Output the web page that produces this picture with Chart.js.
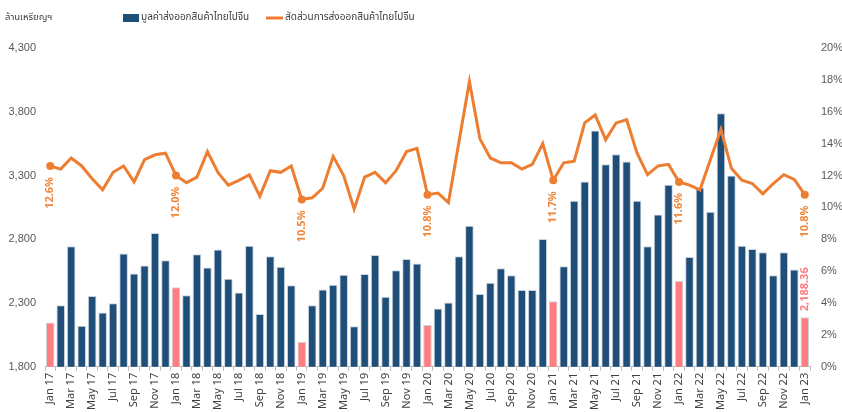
<!DOCTYPE html>
<html>
<head>
<meta charset="utf-8">
<script src="https://cdn.jsdelivr.net/npm/chart.js@4/dist/chart.umd.min.js"></script>
<style>
html,body{margin:0;padding:0;background:#fff;}
#wrap{position:relative;width:842px;height:412px;}
</style>
</head>
<body>
<div id="wrap"><canvas id="c" width="842" height="412"></canvas></div>
<script>
const monthNames = ['Jan','Feb','Mar','Apr','May','Jun','Jul','Aug','Sep','Oct','Nov','Dec'];
const years = ['17','18','19','20','21','22','23'];
const categories = [];
years.forEach(y => monthNames.forEach(m => { if (categories.length < 73) categories.push(m + ' ' + y); }));

// มูลค่าส่งออกสินค้าไทยไปจีน (ล้านเหรียญฯ)
const exportValue = [
  2148, 2283, 2745, 2122, 2355, 2226, 2298, 2688, 2532, 2594, 2849, 2636,
  2423, 2361, 2683, 2579, 2719, 2490, 2382, 2750, 2215, 2667, 2584, 2439,
  1997, 2283, 2407, 2444, 2522, 2117, 2527, 2677, 2350, 2558, 2646, 2610,
  2127, 2257, 2304, 2667, 2906, 2371, 2459, 2573, 2517, 2402, 2402, 2802,
  2314, 2589, 3103, 3254, 3654, 3389, 3467, 3410, 3103, 2745, 2994, 3228,
  2475, 2662, 3207, 3015, 3788, 3301, 2750, 2724, 2698, 2517, 2698, 2563,
  2188.36
];
// สัดส่วนการส่งออกสินค้าไทยไปจีน (%)
const exportShare = [
  12.6, 12.4, 13.1, 12.6, 11.8, 11.1, 12.2, 12.6, 11.6, 13.0, 13.3, 13.4,
  12.0, 11.55, 11.9, 13.5, 12.2, 11.4, 11.7, 12.05, 10.7, 12.3, 12.2, 12.6,
  10.5, 10.6, 11.2, 13.2, 12.0, 9.9, 11.9, 12.2, 11.55, 12.3, 13.5, 13.7,
  10.8, 10.9, 10.3, 14.1, 17.9, 14.3, 13.1, 12.8, 12.8, 12.4, 12.7, 14.0,
  11.7, 12.8, 12.9, 15.3, 15.8, 14.25, 15.3, 15.5, 13.4, 12.05, 12.6, 12.7,
  11.6, 11.4, 11.1, 13.0, 14.9, 12.45, 11.7, 11.5, 10.85, 11.5, 12.05, 11.75,
  10.8
];
const leftTicks = [1800, 2300, 2800, 3300, 3800, 4300];
const rightTicks = [0, 2, 4, 6, 8, 10, 12, 14, 16, 18, 20];
const seriesNames = ['มูลค่าส่งออกสินค้าไทยไปจีน', 'สัดส่วนการส่งออกสินค้าไทยไปจีน'];
const unitTitle = 'ล้านเหรียญฯ';

const BLUE = '#1F4E79', PINK = '#FF7C80', ORANGE = '#ED7D31';
const isJan = categories.map(c => c.startsWith('Jan'));
const barColors = isJan.map(j => j ? PINK : BLUE);
const pointRadii = isJan.map(j => j ? 4 : 0);
const lastIdx = categories.length - 1;
const thaiFont = 'Tahoma, "Noto Sans Thai", "Noto Sans", sans-serif';

const labelPlugin = {
  id: 'labelPlugin',
  afterDatasetsDraw(chart) {
    const ctx = chart.ctx;
    const lineMeta = chart.getDatasetMeta(1);
    const barMeta = chart.getDatasetMeta(0);
    ctx.save();
    ctx.font = 'bold 11px "Noto Sans", sans-serif';
    ctx.fillStyle = '#F0873C';
    ctx.textBaseline = 'middle';
    ctx.textAlign = 'right';
    isJan.forEach((j, i) => {
      if (!j) return;
      const p = lineMeta.data[i];
      ctx.save();
      ctx.translate(p.x, p.y + 11);
      ctx.rotate(-Math.PI / 2);
      ctx.fillText(exportShare[i].toFixed(1) + '%', 0, 0);
      ctx.restore();
    });
    const b = barMeta.data[lastIdx];
    ctx.fillStyle = PINK;
    ctx.textAlign = 'left';
    ctx.save();
    ctx.translate(b.x, b.y - 6);
    ctx.rotate(-Math.PI / 2);
    ctx.fillText(exportValue[lastIdx].toLocaleString('en-US', {minimumFractionDigits: 2}), 0, 0);
    ctx.restore();
    ctx.restore();
  },
  afterDraw(chart) {
    const ctx = chart.ctx;
    ctx.save();
    ctx.textBaseline = 'middle';
    ctx.textAlign = 'left';
    ctx.fillStyle = '#404040';
    ctx.font = '9.5px ' + thaiFont;
    ctx.fillText(unitTitle, 5, 18);
    ctx.font = '10px ' + thaiFont;
    ctx.fillStyle = BLUE;
    ctx.fillRect(123, 14, 16, 8);
    ctx.fillStyle = '#404040';
    ctx.fillText(seriesNames[0], 141, 18);
    ctx.strokeStyle = ORANGE;
    ctx.lineWidth = 3;
    ctx.beginPath();
    ctx.moveTo(266, 18);
    ctx.lineTo(283, 18);
    ctx.stroke();
    ctx.fillText(seriesNames[1], 285, 18);
    ctx.restore();
  }
};

new Chart(document.getElementById('c'), {
  data: {
    labels: categories,
    datasets: [
      {
        type: 'bar',
        label: seriesNames[0],
        data: exportValue,
        backgroundColor: barColors,
        borderColor: '#c9d4e0',
        borderWidth: 1,
        categoryPercentage: 1.0,
        barPercentage: 0.82,
        yAxisID: 'y',
        order: 2
      },
      {
        type: 'line',
        label: seriesNames[1],
        data: exportShare,
        borderColor: ORANGE,
        backgroundColor: ORANGE,
        borderWidth: 3,
        pointRadius: pointRadii,
        pointHoverRadius: pointRadii,
        pointBorderWidth: 0,
        tension: 0,
        yAxisID: 'y1',
        order: 1
      }
    ]
  },
  options: {
    responsive: false,
    animation: false,
    layout: { padding: { top: 48, left: 0, right: 0, bottom: 0 } },
    plugins: { legend: { display: false }, tooltip: { enabled: false } },
    scales: {
      x: {
        offset: true,
        grid: { display: true, drawOnChartArea: false, drawTicks: true, tickLength: 4, color: '#bfbfbf' },
        border: { display: true, color: '#bfbfbf' },
        ticks: {
          autoSkip: false,
          maxRotation: 90,
          minRotation: 90,
          padding: 2,
          color: '#404040',
          font: { family: '"Noto Sans", sans-serif', size: 11 },
          callback: function(v, i) { return i % 2 === 0 ? categories[i] : ''; }
        }
      },
      y: {
        position: 'left',
        min: leftTicks[0],
        max: leftTicks[leftTicks.length - 1],
        afterBuildTicks: ax => { ax.ticks = leftTicks.map(v => ({ value: v })); },
        afterFit: ax => { ax.width = 45; },
        grid: { display: false, drawTicks: false },
        border: { display: false },
        ticks: {
          color: '#595959',
          padding: 9,
          font: { family: '"Liberation Sans", sans-serif', size: 11 },
          callback: v => v.toLocaleString('en-US')
        }
      },
      y1: {
        position: 'right',
        min: rightTicks[0],
        max: rightTicks[rightTicks.length - 1],
        afterBuildTicks: ax => { ax.ticks = rightTicks.map(v => ({ value: v })); },
        afterFit: ax => { ax.width = 32; },
        grid: { display: false, drawTicks: false },
        border: { display: false },
        ticks: {
          color: '#595959',
          padding: 11,
          font: { family: '"Liberation Sans", sans-serif', size: 11 },
          callback: v => v + '%'
        }
      }
    }
  },
  plugins: [labelPlugin]
});
</script>
</body>
</html>
